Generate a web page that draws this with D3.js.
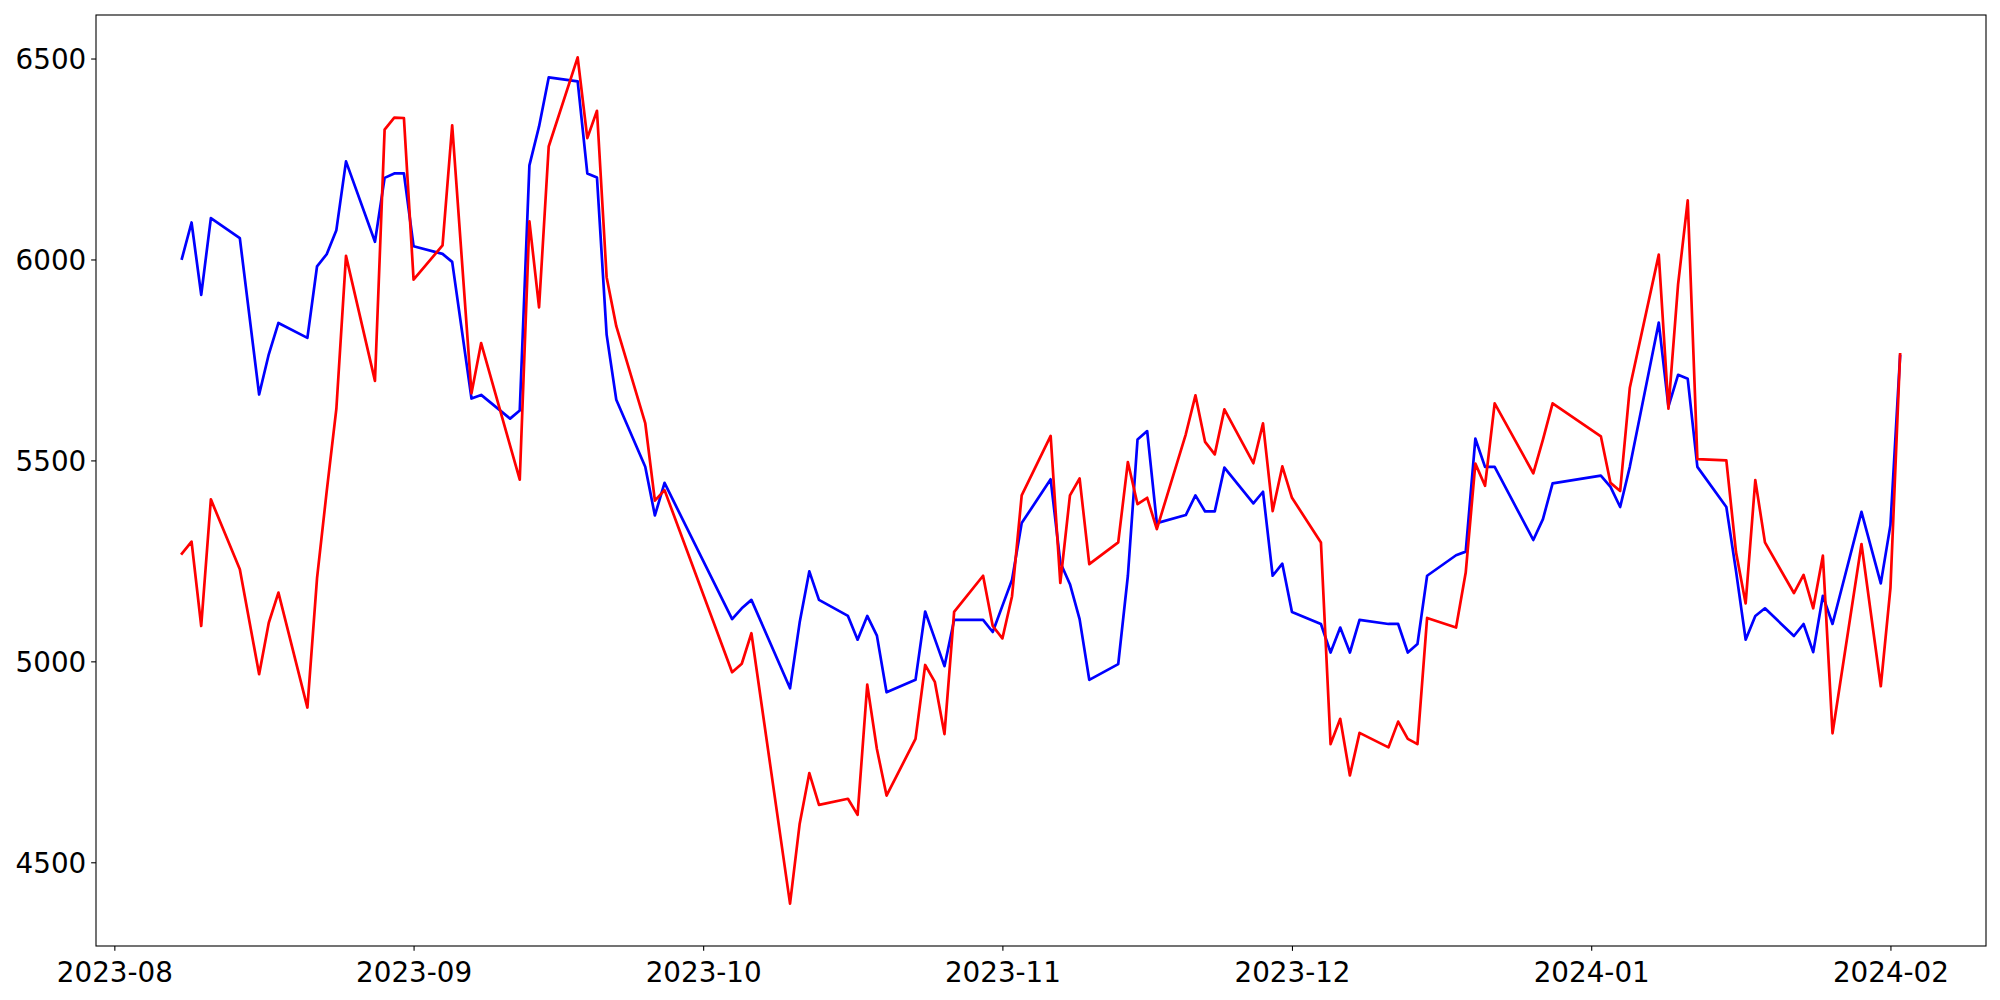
<!DOCTYPE html>
<html>
<head>
<meta charset="utf-8">
<script src="https://cdn.jsdelivr.net/npm/d3@7"></script>
<style>
  html, body { margin: 0; padding: 0; background: #fff; }
  svg { display: block; }
  .tick text { font-family: "DejaVu Sans", sans-serif; fill: #000; }
</style>
</head>
<body>
<svg id="chart" width="2000" height="1000"></svg>
<script>
const dates = [
"2023-08-08","2023-08-09","2023-08-10","2023-08-11","2023-08-14","2023-08-16","2023-08-17","2023-08-18",
"2023-08-21","2023-08-22","2023-08-23","2023-08-24","2023-08-25","2023-08-28","2023-08-29","2023-08-30",
"2023-08-31","2023-09-01","2023-09-04","2023-09-05","2023-09-07","2023-09-08","2023-09-11","2023-09-12",
"2023-09-13","2023-09-14","2023-09-15","2023-09-18","2023-09-19","2023-09-20","2023-09-21","2023-09-22",
"2023-09-25","2023-09-26","2023-09-27","2023-10-04","2023-10-05","2023-10-06","2023-10-10","2023-10-11",
"2023-10-12","2023-10-13","2023-10-16","2023-10-17","2023-10-18","2023-10-19","2023-10-20","2023-10-23",
"2023-10-24","2023-10-25","2023-10-26","2023-10-27","2023-10-30","2023-10-31","2023-11-01","2023-11-02",
"2023-11-03","2023-11-06","2023-11-07","2023-11-08","2023-11-09","2023-11-10","2023-11-13","2023-11-14",
"2023-11-15","2023-11-16","2023-11-17","2023-11-20","2023-11-21","2023-11-22","2023-11-23","2023-11-24",
"2023-11-27","2023-11-28","2023-11-29","2023-11-30","2023-12-01","2023-12-04","2023-12-05","2023-12-06",
"2023-12-07","2023-12-08","2023-12-11","2023-12-12","2023-12-13","2023-12-14","2023-12-15","2023-12-18",
"2023-12-19","2023-12-20","2023-12-21","2023-12-22","2023-12-26","2023-12-27","2023-12-28","2024-01-02",
"2024-01-03","2024-01-04","2024-01-05","2024-01-08","2024-01-09","2024-01-10","2024-01-11","2024-01-12",
"2024-01-15","2024-01-16","2024-01-17","2024-01-18","2024-01-19","2024-01-22","2024-01-23","2024-01-24",
"2024-01-25","2024-01-26","2024-01-29","2024-01-31","2024-02-01","2024-02-02"
];

const blueValues = [
6002,6092,5912,6103,6053,5664,5764,5842,
5805,5983,6013,6073,6244,6044,6203,6214,
6214,6033,6014,5994,5654,5663,5604,5624,
6234,6331,6453,6443,6214,6204,5813,5651,
5484,5363,5444,5105,5132,5153,4933,5097,
5224,5153,5113,5054,5113,5064,4923,4954,
5124,5056,4988,5103,5103,5073,5138,5203,
5344,5453,5246,5192,5105,4954,4993,5213,
5552,5573,5344,5364,5413,5373,5373,5482,
5393,5422,5213,5243,5123,5093,5022,5084,
5022,5103,5093,5093,5022,5043,5213,5264,
5273,5554,5484,5484,5302,5354,5443,5462,
5434,5384,5484,5843,5634,5713,5703,5484,
5384,5225,5054,5113,5132,5063,5093,5023,
5163,5093,5372,5194,5339,5760
];

const redValues = [
5268,5298,5088,5403,5229,4968,5096,5171,
4885,5207,5423,5628,6009,5698,6323,6353,
6352,5950,6035,6334,5667,5792,5537,5452,
6095,5881,6281,6503,6302,6370,5956,5834,
5593,5400,5426,4973,4994,5070,4397,4596,
4722,4643,4658,4618,4942,4782,4666,4807,
4991,4949,4819,5123,5213,5088,5057,5162,
5413,5561,5195,5413,5455,5242,5296,5496,
5391,5407,5329,5565,5662,5546,5515,5627,
5493,5592,5374,5485,5407,5296,4794,4857,
4716,4822,4786,4850,4807,4794,5108,5084,
5221,5492,5437,5642,5468,5552,5642,5560,
5444,5424,5681,6012,5629,5938,6147,5503,
5500,5272,5144,5451,5296,5170,5215,5132,
5263,4821,5292,4938,5182,5764
];

const xTickLabels = ["2023-08","2023-09","2023-10","2023-11","2023-12","2024-01","2024-02"];
const yTickValues = [4500, 5000, 5500, 6000, 6500];

const W = 2000, H = 1000;
const margin = {left: 96, top: 15, right: 14, bottom: 54};
const iw = W - margin.left - margin.right;
const ih = H - margin.top - margin.bottom;
const fontPx = 27.78;
const tickLen = 4.86, tickPad = 4.86;

const parse = d3.utcParse("%Y-%m-%d");
const parseMonth = d3.utcParse("%Y-%m");
const t = dates.map(parse);

// matplotlib-like 5% margins
const tExt = d3.extent(t);
const tSpan = tExt[1] - tExt[0];
const x = d3.scaleUtc()
  .domain([new Date(+tExt[0] - 0.05 * tSpan), new Date(+tExt[1] + 0.05 * tSpan)])
  .range([0, iw]);

const allV = blueValues.concat(redValues);
const vMin = d3.min(allV), vMax = d3.max(allV);
const vSpan = vMax - vMin;
const y = d3.scaleLinear()
  .domain([vMin - 0.05 * vSpan, vMax + 0.05 * vSpan])
  .range([ih, 0]);

const svg = d3.select("#chart");
const g = svg.append("g").attr("transform", `translate(${margin.left},${margin.top})`);

// X axis
const xAxis = d3.axisBottom(x)
  .tickValues(xTickLabels.map(parseMonth))
  .tickFormat(d3.utcFormat("%Y-%m"))
  .tickSize(tickLen)
  .tickPadding(tickPad);
const gx = g.append("g").attr("transform", `translate(0,${ih})`).call(xAxis);
gx.select(".domain").remove();
gx.selectAll(".tick line").attr("stroke", "#000").attr("stroke-width", 1.1);
gx.selectAll(".tick text")
  .attr("font-size", fontPx)
  .attr("dy", null)
  .attr("y", tickLen + tickPad)
  .attr("dominant-baseline", "text-before-edge");

// Y axis
const yAxis = d3.axisLeft(y)
  .tickValues(yTickValues)
  .tickFormat(d3.format("d"))
  .tickSize(tickLen)
  .tickPadding(tickPad);
const gy = g.append("g").call(yAxis);
gy.select(".domain").remove();
gy.selectAll(".tick line").attr("stroke", "#000").attr("stroke-width", 1.1);
gy.selectAll(".tick text")
  .attr("font-size", fontPx)
  .attr("dy", "0.36em");

// Lines
const line = d3.line()
  .x((d, i) => x(t[i]))
  .y(d => y(d));

g.append("path")
  .datum(blueValues)
  .attr("fill", "none")
  .attr("stroke", "#0000ff")
  .attr("stroke-width", 2.7)
  .attr("stroke-linejoin", "round")
  .attr("stroke-linecap", "square")
  .attr("d", line);

g.append("path")
  .datum(redValues)
  .attr("fill", "none")
  .attr("stroke", "#ff0000")
  .attr("stroke-width", 2.7)
  .attr("stroke-linejoin", "round")
  .attr("stroke-linecap", "square")
  .attr("d", line);

// Frame (spines)
g.append("rect")
  .attr("x", 0).attr("y", 0)
  .attr("width", iw).attr("height", ih)
  .attr("fill", "none")
  .attr("stroke", "#000")
  .attr("stroke-width", 1.1);
</script>
</body>
</html>
